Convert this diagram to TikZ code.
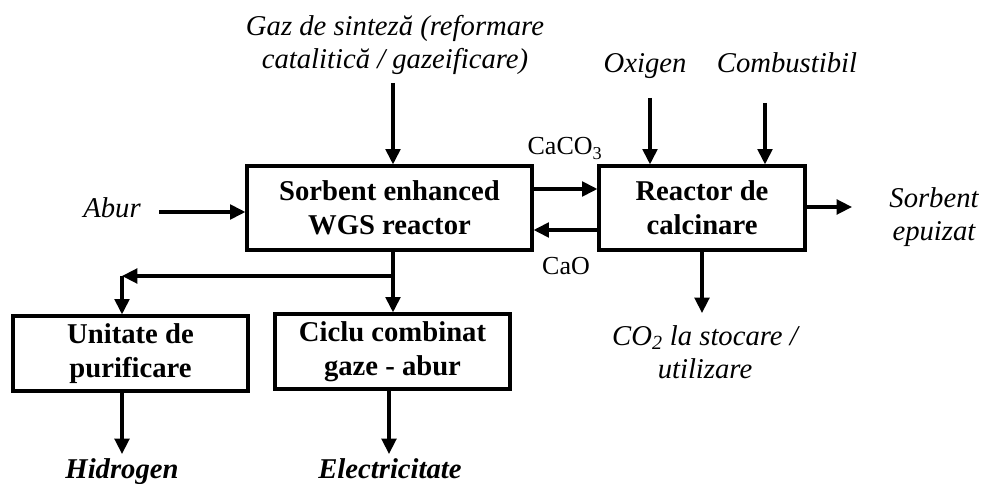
\documentclass[tikz,border=0pt]{standalone}
\usepackage{fontspec}
\setmainfont{Liberation Serif}
\usetikzlibrary{arrows.meta}
\begin{document}
\begin{tikzpicture}[x=0.75pt,y=-0.75pt,
  box/.style={draw, line width=2.4pt, inner sep=0pt, align=center, font=\bfseries\fontsize{21.5}{25.5}\selectfont},
  lbl/.style={inner sep=0pt, align=center, font=\itshape\fontsize{21.5}{25}\selectfont},
  chem/.style={inner sep=0pt, font=\fontsize{19.5}{22}\selectfont},
  outlbl/.style={inner sep=0pt, font=\bfseries\itshape\fontsize{21.5}{25.5}\selectfont},
  arr/.style={line width=2.4pt, -{Triangle[length=11.5pt,width=11pt]}}]
\useasboundingbox (0,0) rectangle (986,484);
% boxes
\node[box, minimum width=213.75pt, minimum height=63pt] (wgs) at (389.5,208) {Sorbent enhanced\\WGS reactor};
\node[box, minimum width=154.5pt, minimum height=63pt] (calc) at (702,208) {Reactor de\\calcinare};
\node[box, minimum width=176.25pt, minimum height=56.25pt] (unit) at (130.5,353.5) {Unitate de\\purificare};
\node[box, minimum width=176.25pt, minimum height=56.25pt] (ciclu) at (392.5,351.5) {Ciclu combinat\\gaze - abur};
% labels
\node[lbl] (gaz) at (395,45) {Gaz de sinteză (reformare\\catalitică / gazeificare)};
\node[lbl, anchor=base] (abur) at (112,218) {Abur};
\node[lbl, anchor=base] (oxi) at (645,73) {Oxigen};
\node[lbl, anchor=base] (comb) at (787,73) {Combustibil};
\node[lbl] (sorb) at (934,217) {Sorbent\\epuizat};
\node[lbl] (co2) at (705,352) {CO\textsubscript{2} la stocare /\\utilizare};
\node[outlbl, anchor=base] (h2) at (122,479) {Hidrogen};
\node[outlbl, anchor=base] (el) at (390,479) {Electricitate};
\node[chem, anchor=base] (caco3) at (565,155) {CaCO\textsubscript{3}};
\node[chem, anchor=base] (cao) at (566,275) {CaO};
% free ends
\coordinate (g0) at (393,83);
\coordinate (a0) at (159,212);
\coordinate (o0) at (650,98);
\coordinate (c0) at (765,103);
\coordinate (s1) at (852,207);
\coordinate (d1) at (702,313);
\coordinate (br) at (393,276);
\coordinate (hl) at (122,276);
\coordinate (h1) at (122,454);
\coordinate (e1) at (389,454);
% connectors
\draw[arr] (g0) -- (g0 |- wgs.north);
\draw[arr] (a0) -- (a0 -| wgs.west);
\draw[arr] ([yshift=14.25pt]wgs.east) -- ([yshift=14.25pt]calc.west);
\draw[arr] ([yshift=-16.5pt]calc.west) -- ([yshift=-16.5pt]wgs.east);
\draw[arr] (o0) -- (o0 |- calc.north);
\draw[arr] (c0) -- (c0 |- calc.north);
\draw[arr] (s1 -| calc.east) -- (s1);
\draw[arr] (calc.south) -- (d1);
\draw[arr] (br |- wgs.south) -- (br |- ciclu.north);
\draw[arr] (br) -- (hl);
\draw[arr] (hl) -- (hl |- unit.north);
\draw[arr] (hl |- unit.south) -- (h1);
\draw[arr] (e1 |- ciclu.south) -- (e1);
\end{tikzpicture}
\end{document}
